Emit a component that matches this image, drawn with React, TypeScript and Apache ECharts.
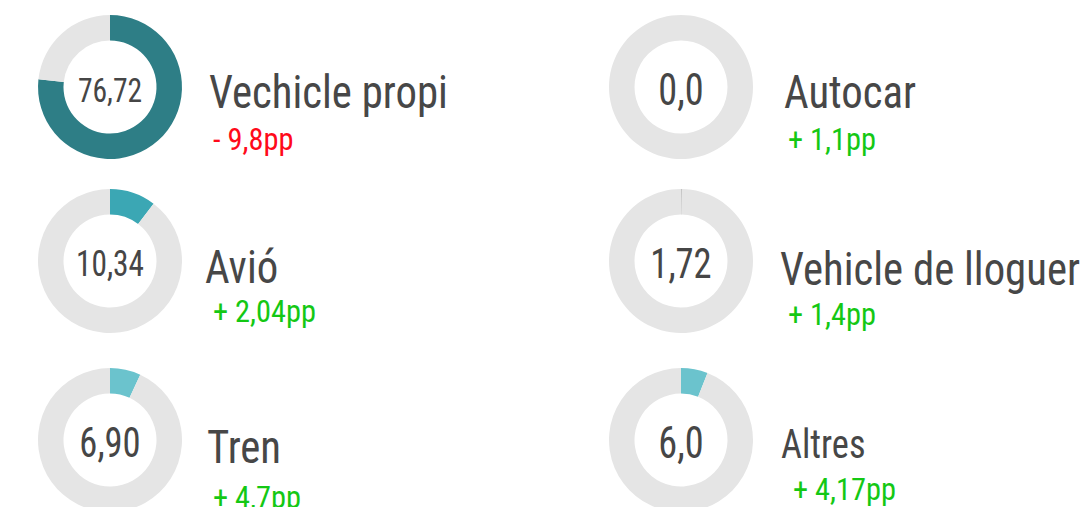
import React, { useEffect, useRef } from "react";
import * as echarts from "echarts";

// ---- data ----
const categories = ["Vechicle propi", "Avió", "Tren", "Autocar", "Vehicle de lloguer", "Altres"];
const centerLabels = ["76,72", "10,34", "6,90", "0,0", "1,72", "6,0"];
const arcValues = [76.72, 10.34, 6.9, 0, 0.2, 6.0];
const changes = ["- 9,8pp", "+ 2,04pp", "+ 4,7pp", "+ 1,1pp", "+ 1,4pp", "+ 4,17pp"];
const changeSign = [-1, 1, 1, 1, 1, 1];

// ---- styling / layout ----
const sliceColors = ["#2e7e86", "#3ba7b4", "#6bc3cd", "#6bc3cd", "#b9b9b9", "#6bc3cd"];
const restColor = "#e5e5e5";
const centers: [number, number][] = [
  [110, 87], [110, 261], [110, 440],
  [681, 87], [681, 261], [681, 440],
];
const centerFont = [34, 36, 42, 44, 42, 44];
const nameX = [209, 205, 207, 784, 780, 781];
const nameBase = [108, 283, 463, 108, 285, 458];
const nameFont = [47, 47, 47, 47, 47, 40];
const changeX = [213, 213, 213, 788, 788, 793];
const changeBase = [150, 322, 508, 150, 325, 500];
const changeFont = 32;
const FONT = "'Liberation Sans Narrow', 'Roboto Condensed', 'DejaVu Sans Condensed', 'Noto Sans', sans-serif";

export default function App() {
  const ref = useRef<HTMLDivElement>(null);
  useEffect(() => {
    if (!ref.current) return;
    const chart = echarts.init(ref.current, undefined, { renderer: "svg" });
    const series = categories.map((name, i) => ({
      type: "pie",
      name,
      center: centers[i],
      radius: [46.5, 72],
      startAngle: 90,
      clockwise: true,
      silent: true,
      label: { show: false },
      labelLine: { show: false },
      avoidLabelOverlap: false,
      data: [
        { name, value: arcValues[i], itemStyle: { color: sliceColors[i] } },
        { name: "rest", value: 100 - arcValues[i], itemStyle: { color: restColor } },
      ],
    }));
    const graphic: any[] = [];
    categories.forEach((name, i) => {
      const [cx, cy] = centers[i];
      graphic.push({
        type: "text",
        x: cx,
        y: cy + 3,
        scaleX: 0.87,
        style: {
          text: centerLabels[i],
          font: `${centerFont[i]}px ${FONT}`,
          fill: "#464646",
          align: "center",
          verticalAlign: "middle",
        },
      });
      graphic.push({
        type: "text",
        x: nameX[i],
        y: nameBase[i] - 0.34 * nameFont[i],
        scaleX: 0.91,
        style: {
          text: name,
          font: `${nameFont[i]}px ${FONT}`,
          fill: "#474747",
          align: "left",
          verticalAlign: "middle",
        },
      });
      graphic.push({
        type: "text",
        x: changeX[i],
        y: changeBase[i] - 0.34 * changeFont,
        scaleX: 0.95,
        style: {
          text: changes[i],
          font: `${changeFont}px ${FONT}`,
          fill: changeSign[i] < 0 ? "#ff0a1a" : "#14c814",
          align: "left",
          verticalAlign: "middle",
        },
      });
    });
    chart.setOption({
      animation: false,
      backgroundColor: "#ffffff",
      series,
      graphic,
    });
    return () => chart.dispose();
  }, []);
  return (
    <div
      ref={ref}
      style={{ position: "fixed", left: 0, top: 0, width: 1087, height: 507 }}
    />
  );
}
